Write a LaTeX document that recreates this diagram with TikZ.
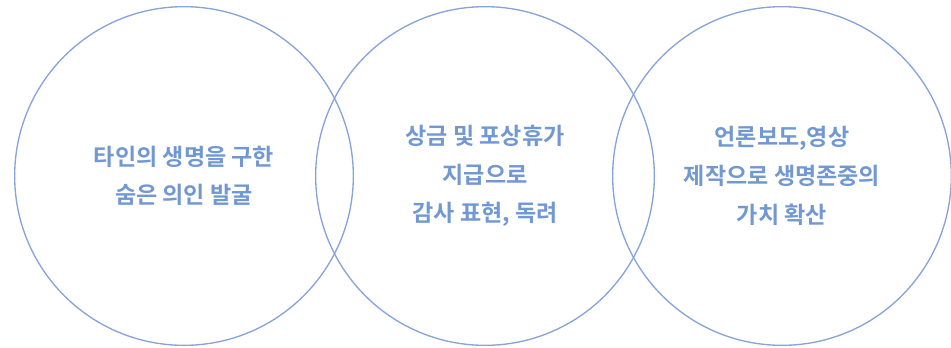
\documentclass[tikz,border=0pt]{standalone}
\usepackage{fontspec}
\usepackage{tikz}
\usetikzlibrary{positioning}
\newfontfamily\cjk{Noto Sans CJK KR Bold}
\definecolor{RingBlue}{HTML}{86A4D8}
\definecolor{TextBlue}{HTML}{7198D2}

\begin{document}
\begin{tikzpicture}[x=0.75pt,y=-0.75pt,
    ring/.style={draw=RingBlue,line width=1pt,circle,minimum size=254pt,inner sep=0pt},
    ringtext/.style={align=center,text=TextBlue,font=\cjk\fontsize{17.3}{29}\selectfont}]
  \useasboundingbox (0,0) rectangle (951,347);

  % los tres círculos
  \node[ring] (left)  at (184,176) {};
  \node[ring] (mid)   at (485,176) {};
  \node[ring] (right) at (782,176) {};

  \node[ringtext] (lefttext)  at (left)  {타인의 생명을 구한\\숨은 의인 발굴};
  \node[ringtext] (midtext)   at (mid)   {상금 및 포상휴가\\지급으로\\감사 표현, 독려};
  \node[ringtext] (righttext) at (right) {언론보도,영상\\제작으로 생명존중의\\가치 확산};
\end{tikzpicture}
\end{document}
